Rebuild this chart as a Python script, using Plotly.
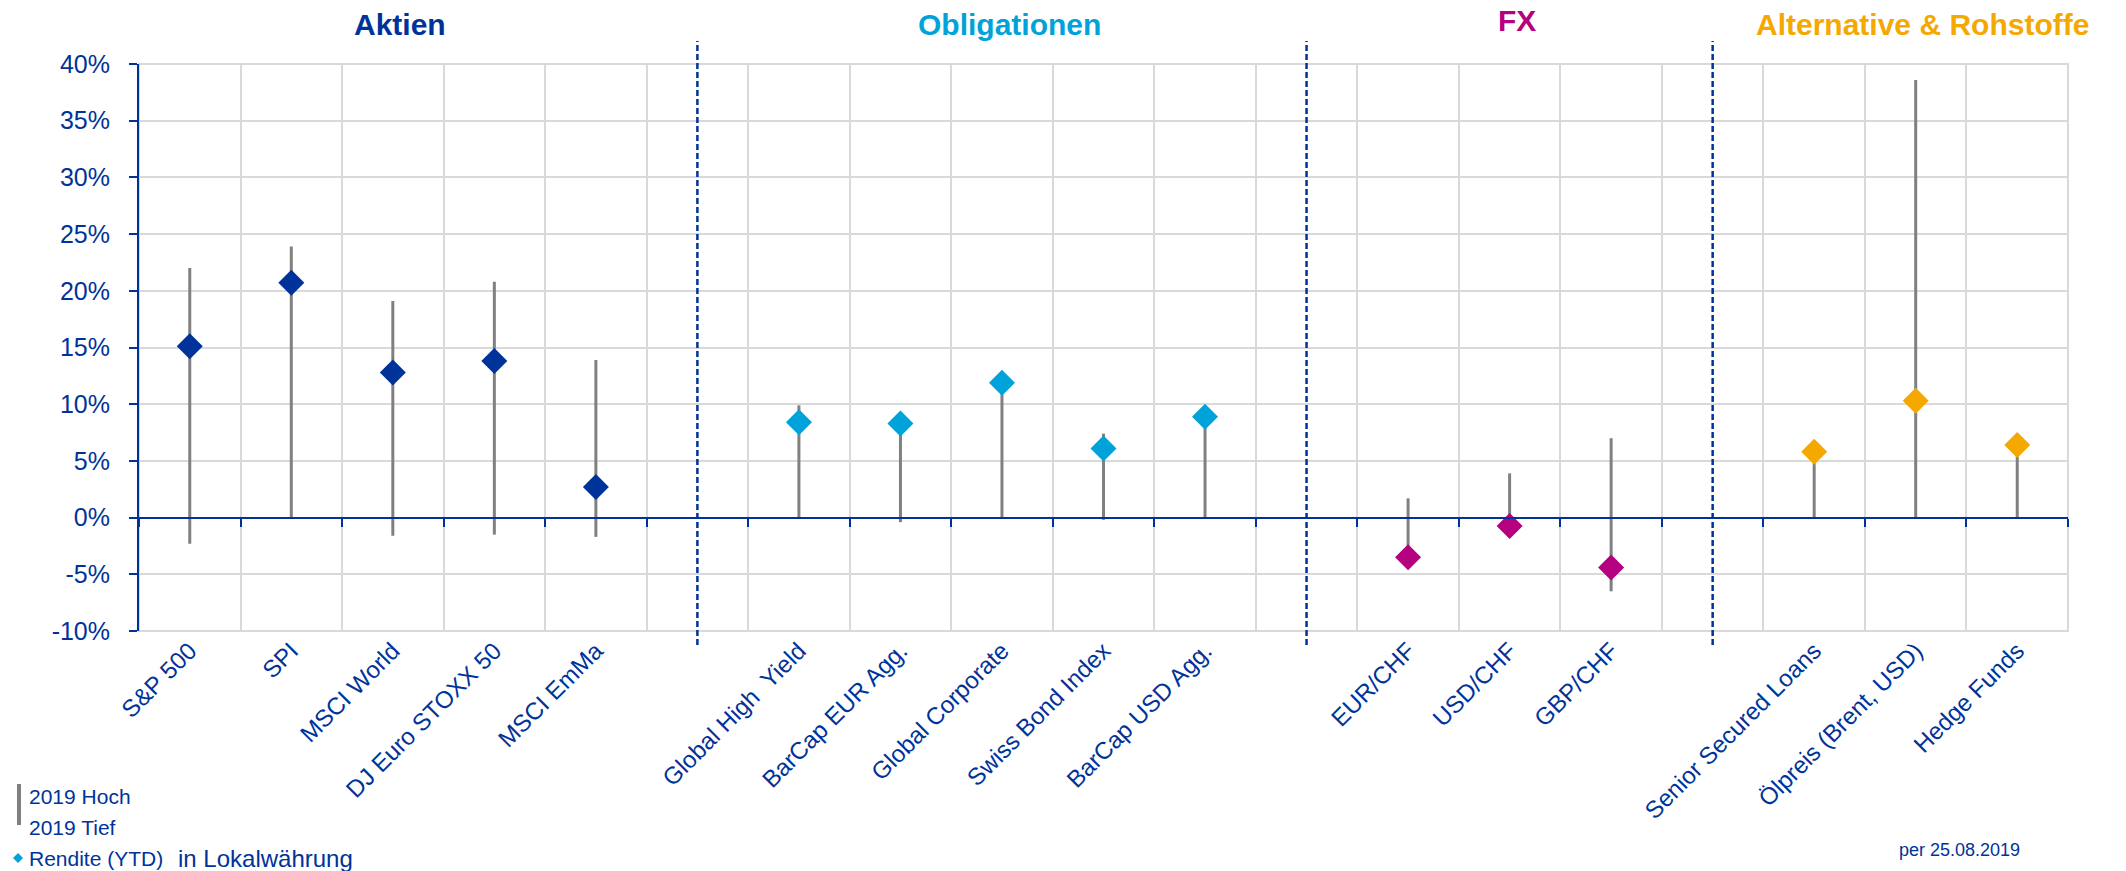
import plotly.graph_objects as go

# ---------------- data ----------------
aktien_names = ["S&P 500", "SPI", "MSCI World", "DJ Euro STOXX 50", "MSCI EmMa"]
aktien_hoch = [22.0, 23.9, 19.1, 20.8, 13.9]
aktien_tief = [-2.3, 0.0, -1.6, -1.5, -1.7]
aktien_ytd = [15.1, 20.7, 12.8, 13.8, 2.7]

oblig_names = ["Global High\u00a0 Yield", "BarCap EUR Agg.", "Global Corporate", "Swiss Bond Index", "BarCap USD Agg."]
oblig_hoch = [9.9, 8.5, 12.0, 7.4, 9.0]
oblig_tief = [0.0, -0.4, 0.0, -0.2, 0.0]
oblig_ytd = [8.4, 8.3, 11.9, 6.1, 8.9]

fx_names = ["EUR/CHF", "USD/CHF", "GBP/CHF"]
fx_hoch = [1.7, 3.9, 7.0]
fx_tief = [-3.6, -0.8, -6.5]
fx_ytd = [-3.5, -0.75, -4.4]

alt_names = ["Senior Secured Loans", "Ölpreis (Brent, USD)", "Hedge Funds"]
alt_hoch = [5.9, 38.6, 6.5]
alt_tief = [0.0, 0.0, 0.0]
alt_ytd = [5.8, 10.3, 6.4]

group_titles = ["Aktien", "Obligationen", "FX", "Alternative & Rohstoffe"]
group_colors = ["#003399", "#00A3D9", "#B5007F", "#F5A800"]

y_tickvals = [-10, -5, 0, 5, 10, 15, 20, 25, 30, 35, 40]
y_ticktext = ["-10%", "-5%", "0%", "5%", "10%", "15%", "20%", "25%", "30%", "35%", "40%"]

legend_hoch = "2019 Hoch"
legend_tief = "2019 Tief"
legend_ytd = "Rendite (YTD)"
legend_note = "in Lokalwährung"
date_note = "per 25.08.2019"

# ---------------- layout constants ----------------
W, H = 2126, 871
ML, MR, MT, MB = 139, 58, 64, 240
PW, PH = W - ML - MR, H - MT - MB
BLUE = "#003399"
GRID = "#d9d9d9"
FONT = "Liberation Sans, Arial, sans-serif"


def px_x(p):
    return (p - ML) / PW


def px_y(p):
    return (H - MB - p) / PH


groups = [
    (aktien_names, aktien_hoch, aktien_tief, aktien_ytd),
    (oblig_names, oblig_hoch, oblig_tief, oblig_ytd),
    (fx_names, fx_hoch, fx_tief, fx_ytd),
    (alt_names, alt_hoch, alt_tief, alt_ytd),
]

fig = go.Figure()

tick_pos, tick_lab = [], []
stem_x, stem_y = [], []
group_pos = []
idx = 0
for gi, (names, hoch, tief, ytd) in enumerate(groups):
    xs = list(range(idx, idx + len(names)))
    group_pos.append(xs)
    tick_pos += xs
    tick_lab += names
    for x, lo, hi in zip(xs, tief, hoch):
        stem_x += [x, x, None]
        stem_y += [lo, hi, None]
    idx += len(names) + 1
n_slots = idx - 1  # 19 category slots

fig.add_trace(go.Scatter(x=stem_x, y=stem_y, mode="lines",
                         line=dict(color="#808080", width=3),
                         hoverinfo="skip", showlegend=False))

for gi, (names, hoch, tief, ytd) in enumerate(groups):
    fig.add_trace(go.Scatter(x=group_pos[gi], y=ytd, mode="markers",
                             marker=dict(symbol="diamond", size=20, color=group_colors[gi],
                                         line=dict(width=0)),
                             text=names, showlegend=False))

# dummy trace for the zero-line axis
fig.add_trace(go.Scatter(x=[None], y=[None], xaxis="x2", showlegend=False))

xr = [-0.5, n_slots - 0.5]
boundaries = [b - 0.5 for b in range(n_slots + 1)]

fig.update_layout(
    width=W, height=H,
    margin=dict(l=ML, r=MR, t=MT, b=MB),
    paper_bgcolor="white", plot_bgcolor="white",
    font=dict(family=FONT, color=BLUE),
    showlegend=False,
    xaxis=dict(range=xr, tickmode="array", tickvals=tick_pos, ticktext=tick_lab,
               tickangle=-45, tickfont=dict(size=24, color=BLUE, family=FONT),
               showgrid=False, zeroline=False, showline=False, ticks="",
               minor=dict(tickmode="array", tickvals=boundaries, showgrid=True,
                          gridcolor=GRID, gridwidth=1.5, ticks="")),
    xaxis2=dict(range=xr, overlaying="x", anchor="free", position=0.2, side="bottom",
                showline=True, linecolor=BLUE, linewidth=2,
                tickmode="array", tickvals=boundaries, ticks="outside", ticklen=8,
                tickwidth=2, tickcolor=BLUE, showticklabels=False,
                showgrid=False, zeroline=False),
    yaxis=dict(range=[-10, 40], tickmode="array", tickvals=y_tickvals, ticktext=y_ticktext,
               tickfont=dict(size=25, color=BLUE, family=FONT),
               showgrid=True, gridcolor=GRID, gridwidth=2,
               zeroline=False, showline=True, linecolor=BLUE, linewidth=2,
               ticks="outside", ticklen=8, tickwidth=2, tickcolor=BLUE,
               ticklabelstandoff=14),
)

# plot-area frame in grid colour (top / bottom / right edges)
fig.add_shape(type="rect", xref="paper", yref="paper", x0=0, x1=1, y0=0, y1=1,
              line=dict(color=GRID, width=2), layer="below")

# dashed separators between groups
for gi in range(len(groups) - 1):
    sep = (group_pos[gi][-1] + group_pos[gi + 1][0]) / 2.0
    fig.add_shape(type="line", xref="x", yref="paper", x0=sep, x1=sep,
                  y0=px_y(645), y1=px_y(41),
                  line=dict(color=BLUE, width=2.5, dash="6px,3px"), layer="above")

# group titles
for gi, title in enumerate(group_titles):
    xs = group_pos[gi]
    cx = (xs[0] + xs[-1]) / 2.0 + 0.07
    cy = px_y(21) if title == "FX" else px_y(25)
    fig.add_annotation(x=cx, y=cy, xref="x", yref="paper", text="<b>%s</b>" % title,
                       showarrow=False, xanchor="center", yanchor="middle",
                       font=dict(size=30, color=group_colors[gi], family=FONT))

# custom legend
fig.add_shape(type="rect", xref="paper", yref="paper",
              x0=px_x(17), x1=px_x(21), y0=px_y(825), y1=px_y(784),
              fillcolor="#808080", line=dict(width=0))
for txt, yy in [(legend_hoch, 796), (legend_tief, 827)]:
    fig.add_annotation(x=px_x(27), y=px_y(yy), xref="paper", yref="paper", text=txt,
                       showarrow=False, xanchor="left", yanchor="middle",
                       font=dict(size=21, color=BLUE, family=FONT))
dcx, dcy, dr = 18, 858, 5
fig.add_shape(type="path", xref="paper", yref="paper",
              path="M %f,%f L %f,%f L %f,%f L %f,%f Z" % (
                  px_x(dcx - dr), px_y(dcy), px_x(dcx), px_y(dcy - dr),
                  px_x(dcx + dr), px_y(dcy), px_x(dcx), px_y(dcy + dr)),
              fillcolor=group_colors[1], line=dict(width=0))
fig.add_annotation(x=px_x(27), y=px_y(858), xref="paper", yref="paper", text=legend_ytd,
                   showarrow=False, xanchor="left", yanchor="middle",
                   font=dict(size=21, color=BLUE, family=FONT))
fig.add_annotation(x=px_x(176), y=px_y(858), xref="paper", yref="paper", text=legend_note,
                   showarrow=False, xanchor="left", yanchor="middle",
                   font=dict(size=24, color=BLUE, family=FONT))
fig.add_annotation(x=px_x(2022), y=px_y(850), xref="paper", yref="paper", text=date_note,
                   showarrow=False, xanchor="right", yanchor="middle",
                   font=dict(size=18, color=BLUE, family=FONT))

fig.write_html("out.html")
